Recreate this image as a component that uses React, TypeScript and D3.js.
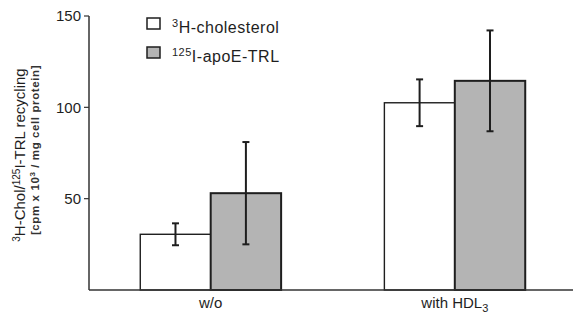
import React from "react";
import * as d3 from "d3";

const categories = ["w/o", "with HDL3"];
const seriesNames = ["³H-cholesterol", "¹²⁵I-apoE-TRL"];
const cholValues = [30.5, 102.5];
const cholErrors = [6, 12.8];
const apoValues = [53, 114.5];
const apoErrors = [28, 27.6];
const yTicks = [50, 100, 150];

const W = 573;
const H = 326;
const axisX = 89;
const y0 = 290;
const yTop = 16;

export default function App() {
  const y = d3.scaleLinear().domain([0, 150]).range([y0, yTop]);
  const x = d3
    .scaleBand<string>()
    .domain(categories)
    .range([89, 576.5])
    .paddingInner(0.423)
    .paddingOuter(0.21);
  const sub = d3.scaleBand<number>().domain([0, 1]).range([0, x.bandwidth()]);
  const fills = ["#ffffff", "#b4b4b4"];
  const strokes = [1.4, 2];
  const series = [
    { vals: cholValues, errs: cholErrors },
    { vals: apoValues, errs: apoErrors },
  ];
  const font = "Liberation Sans, Arial, sans-serif";
  const ink = "#1e1e1e";

  return (
    <svg
      width={W}
      height={H}
      style={{ position: "absolute", left: 0, top: 0, background: "#fff" }}
      fontFamily={font}
    >
      {categories.map((c, ci) =>
        series.map((s, si) => {
          const bx = (x(c) ?? 0) + (sub(si) ?? 0);
          const by = y(s.vals[ci]);
          return (
            <rect
              key={c + si}
              x={bx}
              y={by}
              width={sub.bandwidth()}
              height={y0 - by}
              fill={fills[si]}
              stroke={ink}
              strokeWidth={strokes[si]}
            />
          );
        })
      )}
      {categories.map((c, ci) =>
        series.map((s, si) => {
          const cx = (x(c) ?? 0) + (sub(si) ?? 0) + sub.bandwidth() / 2;
          const t = y(s.vals[ci] + s.errs[ci]);
          const b = y(s.vals[ci] - s.errs[ci]);
          const cap = 3.5;
          return (
            <g key={"e" + c + si} stroke={ink} strokeWidth={2}>
              <line x1={cx} x2={cx} y1={t} y2={b} />
              <line x1={cx - cap} x2={cx + cap} y1={t} y2={t} />
              <line x1={cx - cap} x2={cx + cap} y1={b} y2={b} />
            </g>
          );
        })
      )}
      <line x1={axisX} x2={axisX} y1={yTop} y2={y0} stroke="#333" strokeWidth={1.5} />
      <line x1={axisX} x2={W} y1={y0} y2={y0} stroke="#333" strokeWidth={1.5} />
      {yTicks.map((t) => (
        <g key={t}>
          <line x1={axisX - 5} x2={axisX} y1={y(t)} y2={y(t)} stroke="#333" strokeWidth={1.2} />
          <text
            x={axisX - 8}
            y={y(t)}
            dy="0.35em"
            textAnchor="end"
            fontSize={15}
            fill={ink}
          >
            {t}
          </text>
        </g>
      ))}
      {categories.map((c) => {
        const cx = (x(c) ?? 0) + x.bandwidth() / 2;
        return (
          <text key={c} x={cx} y={308} textAnchor="middle" fontSize={15} fill={ink}>
            {c === "with HDL3" ? (
              <>
                with HDL
                <tspan fontSize={11} dy={4}>
                  3
                </tspan>
              </>
            ) : (
              c
            )}
          </text>
        );
      })}
      <g transform="translate(25,155) rotate(-90)">
        <text textAnchor="middle" fontSize={15} fill={ink}>
          <tspan fontSize={10} dy={-5}>3</tspan>
          <tspan dy={5}>H-Chol/</tspan>
          <tspan fontSize={10} dy={-5}>125</tspan>
          <tspan dy={5}>I-TRL recycling</tspan>
        </text>
      </g>
      <g transform="translate(39,150) rotate(-90)">
        <text textAnchor="middle" fontSize={11.5} fontWeight="bold" fill="#333" letterSpacing={0.6}>
          <tspan>[cpm x 10</tspan>
          <tspan fontSize={8} dy={-4}>3</tspan>
          <tspan dy={4}> / mg cell protein]</tspan>
        </text>
      </g>
      {seriesNames.map((n, i) => {
        const ly = 18 + i * 29;
        return (
          <g key={n}>
            <rect x={147} y={ly} width={13} height={11} fill={fills[i]} stroke={ink} strokeWidth={1.5} />
            <text x={172} y={ly + 15} fontSize={16} fill={ink} letterSpacing={0.5}>
              {i === 0 ? (
                <>
                  <tspan fontSize={11} dy={-6}>3</tspan>
                  <tspan dy={6}>H-cholesterol</tspan>
                </>
              ) : (
                <>
                  <tspan fontSize={11} dy={-6}>125</tspan>
                  <tspan dy={6}>I-apoE-TRL</tspan>
                </>
              )}
            </text>
          </g>
        );
      })}
    </svg>
  );
}
